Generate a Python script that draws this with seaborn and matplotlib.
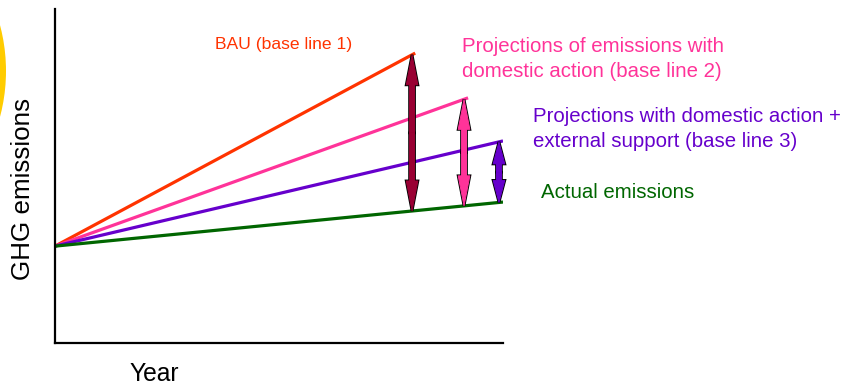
import matplotlib
matplotlib.use("Agg")
import matplotlib.pyplot as plt
import matplotlib.patches as mpatches
import pandas as pd
import seaborn as sns

# Emission pathways (relative units): start value and end points per scenario
scenarios = ["BAU", "Domestic action", "Domestic + external", "Actual"]
start_year = [0, 0, 0, 0]
end_year = [80.4, 92.2, 100.0, 100.0]
start_value = [29.0, 29.0, 29.0, 29.0]
end_value = [86.8, 73.4, 60.5, 42.2]
line_colors = ["#FF3300", "#FF3399", "#6600CC", "#006600"]

# Gaps between projections and actual emissions, drawn as double arrows
gap_year = [79.7, 91.3, 99.1]
gap_scenario = ["BAU", "Domestic action", "Domestic + external"]
arrow_colors = ["#990033", "#FF3399", "#6600CC"]
head_lengths = [9.0, 9.0, 6.6]

labels = ["BAU (base line 1)",
          "Projections of emissions with\ndomestic action (base line 2)",
          "Projections with domestic action +\nexternal support (base line 3)",
          "Actual emissions"]

rows = []
for s, x0, x1, y0, y1 in zip(scenarios, start_year, end_year, start_value, end_value):
    rows.append({"scenario": s, "year": x0, "value": y0})
    rows.append({"scenario": s, "year": x1, "value": y1})
df = pd.DataFrame(rows)

sns.set_theme(style="white")
plt.rcParams["font.family"] = ["Liberation Sans", "DejaVu Sans"]

fig = plt.figure(figsize=(8.43, 3.88), dpi=100)
ax = fig.add_axes([55 / 843, 45 / 388, 448 / 843, 334 / 388])

# yellow disc peeking in at the left edge
fig.patches.append(mpatches.Circle((-1.73, 3.17), 1.79, transform=fig.dpi_scale_trans,
                                   facecolor="#FFCC00", edgecolor="none", zorder=0))

sns.lineplot(data=df, x="year", y="value", hue="scenario", hue_order=scenarios,
             palette=line_colors, linewidth=2.3, legend=False, ax=ax,
             solid_capstyle="butt")


def value_at(scn, x):
    i = scenarios.index(scn)
    t = (x - start_year[i]) / (end_year[i] - start_year[i])
    return start_value[i] + t * (end_value[i] - start_value[i])


for x, scn, col, hl in zip(gap_year, gap_scenario, arrow_colors, head_lengths):
    top = value_at(scn, x)
    bottom = value_at("Actual", x)
    mid = (top + bottom) / 2
    # first pass: black outline; second pass: colour fill hiding the seam
    for pass_no in range(2):
        for target in (top, bottom):
            arr = mpatches.FancyArrow(x, mid, 0, target - mid, width=1.1,
                                      head_width=2.6, head_length=hl,
                                      length_includes_head=True,
                                      facecolor=col,
                                      edgecolor="black" if pass_no == 0 else col,
                                      linewidth=2.0 if pass_no == 0 else 0.7,
                                      zorder=5 + pass_no, clip_on=False)
            ax.add_patch(arr)

ax.set_xlim(0, 100)
ax.set_ylim(0, 100)
ax.set_xticks([])
ax.set_yticks([])
ax.set_xlabel("")
ax.set_ylabel("")
for side in ("top", "right"):
    ax.spines[side].set_visible(False)
for side in ("left", "bottom"):
    ax.spines[side].set_color("black")
    ax.spines[side].set_linewidth(1.6)

ax.text(35.7, 89.5, labels[0], color=line_colors[0], fontsize=12.6,
        ha="left", va="center", clip_on=False)
ax.text(90.8, 85.0, labels[1], color=line_colors[1], fontsize=14.7,
        ha="left", va="center", linespacing=1.35, clip_on=False)
ax.text(106.7, 64.1, labels[2], color=line_colors[2], fontsize=14.7,
        ha="left", va="center", linespacing=1.35, clip_on=False)
ax.text(108.5, 45.2, labels[3], color=line_colors[3], fontsize=14.7,
        ha="left", va="center", clip_on=False)

fig.text(23 / 843, 1 - 188.5 / 388, "GHG emissions", rotation=90, fontsize=18.7,
         ha="center", va="center", color="black")
fig.text(154 / 843, 1 - 374 / 388, "Year", fontsize=17.7,
         ha="center", va="center", color="black")

fig.savefig("out.png", dpi=100, facecolor="white")
